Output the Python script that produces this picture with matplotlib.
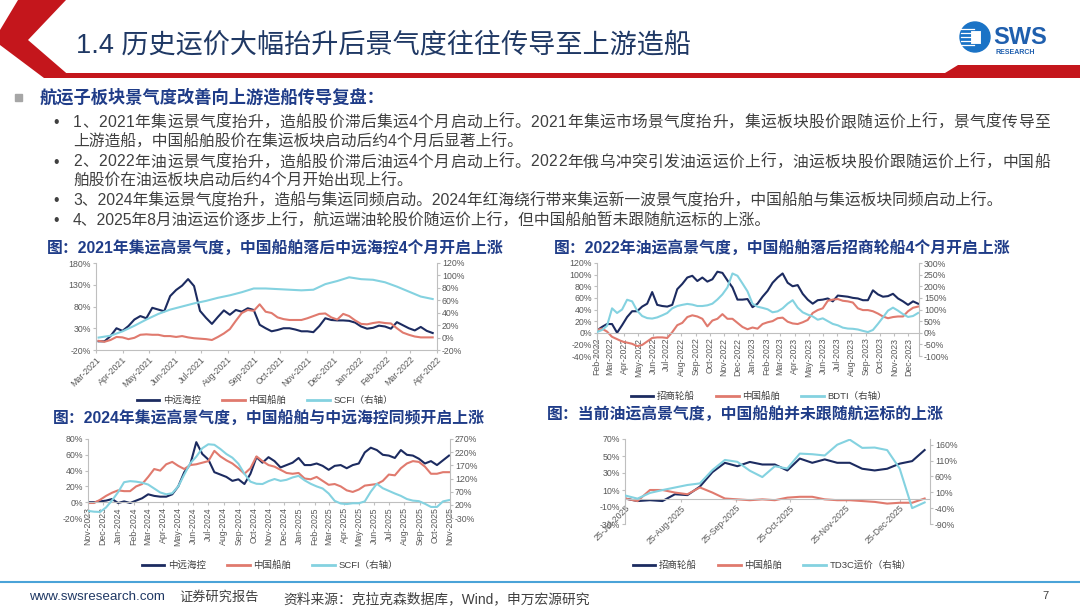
import numpy as np
import pandas as pd
import matplotlib
matplotlib.use('Agg')
import matplotlib.pyplot as plt
import matplotlib.dates as mdates
from matplotlib.patches import Polygon, Circle, Rectangle
from matplotlib.lines import Line2D
from matplotlib.ticker import FuncFormatter

plt.rcParams['font.family'] = ['Liberation Sans', 'Noto Sans CJK SC']

# ---------------- data ----------------
# chart 1: 2021 container boom, left axis %, SCFI on right axis
c1_cosco = [0, 0, 12, 30, 24, 35, 50, 58, 53, 77, 73, 69, 104, 118, 128, 143, 127, 70, 54, 40,
            56, 71, 61, 72, 68, 76, 72, 38, 30, 23, 26, 30, 30, 27, 23, 23, 21, 35, 53, 49,
            48, 48, 47, 43, 34, 29, 31, 36, 34, 29, 44, 37, 30, 25, 33, 24, 19]
c1_csscl = [1, -1, 3, 10, 9, 5, 8, 15, 16, 15, 15, 12, 12, 10, 12, 9, 7, 6, 5, 3,
            10, 18, 28, 47, 65, 72, 70, 85, 68, 65, 55, 51, 49, 49, 49, 53, 58, 63, 64, 55,
            50, 63, 58, 48, 40, 39, 42, 44, 42, 41, 30, 20, 15, 11, 9, 9, 9]
c1_scfi = [0, 3, 10, 19, 29, 38, 45, 50, 55, 59, 64, 68, 73, 79, 79, 78, 77, 76, 77, 86,
           91, 97, 94, 93, 89, 82, 74, 66, 62]

# chart 2: 2022 tanker boom, BDTI on right axis
c2_cmes = [4, 10, 15, 15, 0, 13, 27, 37, 37, 45, 50, 70, 48, 46, 45, 48, 75, 84, 95, 98,
           89, 95, 88, 92, 105, 103, 90, 78, 57, 57, 58, 44, 50, 62, 72, 86, 95, 102, 86, 80,
           82, 67, 57, 50, 56, 57, 59, 54, 64, 63, 62, 60, 59, 56, 56, 73, 66, 62, 63, 67,
           59, 54, 48, 54, 50]
c2_csscl = [5, 7, 2, -7, -11, -15, -17, -19, -23, -21, -15, -9, -8, -8, -9, 1, 13, 17, 27, 30,
            28, 24, 11, 21, 24, 32, 24, 24, 17, 10, 6, 9, 7, 15, 18, 20, 25, 26, 19, 16,
            15, 18, 22, 34, 39, 42, 55, 57, 58, 55, 54, 52, 42, 39, 39, 37, 33, 28, 25, 27,
            28, 28, 37, 43, 45]
c2_bdti = [3, 12, 30, 105, 85, 100, 142, 135, 95, 72, 63, 61, 66, 75, 85, 105, 115, 120, 124, 121,
           115, 115, 118, 125, 143, 165, 195, 255, 245, 212, 178, 125, 112, 107, 101, 88, 92, 105, 125, 140,
           108, 88, 78, 70, 56, 62, 50, 38, 32, 22, 18, 17, 14, 8, 3, 12, 38, 66, 95, 108,
           95, 80, 68, 72, 85]

# chart 3: 2024 Red Sea container rally, SCFI on right axis
c3_cosco = [0, 0, 1, 2, 4, -1, 1, -1, 2, 5, 10, 8, 7, 7, 10, 20, 38, 48, 76, 61,
            54, 38, 35, 32, 27, 29, 23, 36, 57, 50, 57, 52, 44, 47, 50, 56, 47, 47, 49, 46,
            41, 46, 47, 43, 47, 49, 63, 69, 66, 60, 59, 56, 66, 60, 59, 55, 49, 52, 47, 53, 59]
c3_csscl = [-1, -1, 3, 8, 12, 15, 14, 14, 20, 23, 32, 42, 40, 48, 51, 46, 42, 47, 48, 50,
            52, 65, 58, 53, 49, 43, 36, 43, 58, 52, 47, 45, 41, 37, 36, 37, 30, 29, 32, 27,
            22, 23, 20, 15, 13, 16, 21, 22, 23, 27, 35, 34, 43, 49, 52, 51, 45, 36, 36, 38, 38]
c3_scfi = [-3, -6, -7, 10, 37, 68, 106, 110, 108, 104, 97, 82, 67, 60, 64, 90, 135, 178, 203, 235,
           250, 248, 232, 213, 199, 176, 138, 108, 100, 99, 110, 118, 111, 115, 124, 130, 113, 100, 90, 82,
           63, 35, 25, 23, 26, 26, 33, 70, 100, 83, 73, 63, 54, 42, 36, 34, 24, 12, 12, 33, 38]

# chart 4: current tanker rally, TD3C on right axis
c4_cmes = [0, -3, -2, -3, 5, 4, 14, 31, 42, 38, 43, 40, 40, 33, 47, 42, 46, 42, 42, 35,
           33, 35, 41, 44, 57]
c4_csscl = [0, -3, 10, 10, 7, 5, 13, 7, 0, -1, -2, -1, -2, 1, 2, 2, -1, -2, -2, -3,
            -4, -6, -5, -5, 0]
c4_td3c = [0, -10, 8, 17, 25, 33, 38, 80, 112, 106, 78, 58, 92, 85, 132, 130, 126, 160, 176, 150,
           151, 143, 85, -40, -22]

NAVY = '#1c2b60'
RED = '#e07a6e'
CYAN = '#84d2e0'
AXC = '#bfbfbf'
TXT = '#595959'
TITLE = '#1f3c88'

fig = plt.figure(figsize=(10.8, 6.08), dpi=100)
bg = fig.add_axes([0, 0, 1, 1])
bg.set_xlim(0, 1080)
bg.set_ylim(608, 0)
bg.axis('off')


def px_rect(l, t, r, b):
    return [l / 1080, 1 - b / 608, (r - l) / 1080, (b - t) / 608]


# ---------------- header ----------------
bg.add_patch(Polygon([(18, 0), (66, 0), (28, 40), (72, 78), (44, 78), (0, 45), (0, 30)],
                     closed=True, color='#c4161c', lw=0))
bg.add_patch(Polygon([(55, 78), (1080, 78), (1080, 65), (958, 65), (945, 73), (62, 73)],
                     closed=True, color='#c4161c', lw=0))
bg.text(76, 45, '1.4 历史运价大幅抬升后景气度往往传导至上游造船', fontsize=19.5,
        fontweight='light', color='#1f3864', va='center', ha='left')

bg.add_patch(Circle((975, 37), 15, color='#1a73c6'))
for i in range(5):
    bg.plot([961, 974], [29 + i * 4, 29 + i * 4], color='white', lw=0.9)
bg.add_patch(Rectangle((970, 30), 11, 14, facecolor='white', edgecolor='#1a73c6', lw=0.8))
bg.text(993, 38, 'SWS', fontsize=17, fontweight='bold', color='#1f5fae', va='center', ha='left')
bg.text(996, 53, 'RESEARCH', fontsize=5, fontweight='bold', color='#1f5fae', va='center', ha='left')

# ---------------- text block ----------------
BODY = 11.35


def justify(s, x0, x1, y, size, **kw):
    em = size * 100 / 72
    adv = [0.556 if ord(c) < 0x2e80 else 1.0 for c in s]
    gap = (x1 - x0 - sum(adv) * em) / (len(s) - 1)
    x = x0
    for c, a in zip(s, adv):
        bg.text(x, y, c, fontsize=size, va='baseline', ha='left', **kw)
        x += a * em + gap


bg.add_patch(Rectangle((15, 94), 7, 7, color='#a6a6a6'))
bg.text(40, 103, '航运子板块景气度改善向上游造船传导复盘：', fontsize=12.4, fontweight='bold',
        color=TITLE, va='baseline', ha='left')

lines = [
    ('1、2021年集运景气度抬升，造船股价滞后集运4个月启动上行。2021年集运市场景气度抬升，集运板块股价跟随运价上行，景气度传导至', True, True),
    ('上游造船，中国船舶股价在集运板块启动后约4个月后显著上行。', False, False),
    ('2、2022年油运景气度抬升，造船股价滞后油运4个月启动上行。2022年俄乌冲突引发油运运价上行，油运板块股价跟随运价上行，中国船', True, True),
    ('舶股价在油运板块启动后约4个月开始出现上行。', False, False),
    ('3、2024年集运景气度抬升，造船与集运同频启动。2024年红海绕行带来集运新一波景气度抬升，中国船舶与集运板块同频启动上行。', True, False),
    ('4、2025年8月油运运价逐步上行，航运端油轮股价随运价上行，但中国船舶暂未跟随航运标的上涨。', True, False),
]
line_y = [121, 141, 160.5, 180, 199.5, 219]
for (s, dot, just), y in zip(lines, line_y):
    yb = y + 6
    if dot:
        bg.text(53, yb, '•', fontsize=BODY, color='#404040', va='baseline', ha='left')
    if just:
        justify(s, 73, 1050, yb, BODY, color='#404040')
    else:
        bg.text(73, yb, s, fontsize=BODY, color='#404040', va='baseline', ha='left')

# ---------------- chart titles ----------------
titles = [
    (47, 249, '图：2021年集运高景气度，中国船舶落后中远海控4个月开启上涨'),
    (554, 249, '图：2022年油运高景气度，中国船舶落后招商轮船4个月开启上涨'),
    (53, 419, '图：2024年集运高景气度，中国船舶与中远海控同频开启上涨'),
    (547, 415, '图：当前油运高景气度，中国船舶并未跟随航运标的上涨'),
]
for x, y, s in titles:
    bg.text(x, y, s, fontsize=11.4, fontweight='bold', color=TITLE, va='center', ha='left')

pct = FuncFormatter(lambda v, p: f'{v:.0f}%')


def chart(rect, start, end, left, right, llim, lticks, rlim, rticks, xlim,
          locator, fmt, rot, zero_axis, legend_xy):
    ax = fig.add_axes(px_rect(*rect))
    ax.set_facecolor('none')
    for vals, color, _ in left:
        d = pd.date_range(start, end, periods=len(vals))
        ax.plot(d, vals, color=color, lw=1.5)
    ax.set_ylim(*llim)
    ax.set_yticks(lticks)
    ax.yaxis.set_major_formatter(pct)
    ax.set_xlim(pd.Timestamp(xlim[0]), pd.Timestamp(xlim[1]))
    ax.xaxis.set_major_locator(locator)
    ax.xaxis.set_major_formatter(mdates.DateFormatter(fmt))
    for sp in ['top', 'right']:
        ax.spines[sp].set_visible(False)
    for sp in ['left', 'bottom']:
        ax.spines[sp].set_color(AXC)
        ax.spines[sp].set_linewidth(0.8)
    if zero_axis:
        ax.spines['bottom'].set_position(('data', 0))
    ax.tick_params(axis='y', length=2, color=AXC, labelsize=6.3, labelcolor=TXT, pad=1.5)
    ax.tick_params(axis='x', length=2, color=AXC, labelsize=6.3, labelcolor=TXT, pad=1.5)
    for lbl in ax.get_xticklabels():
        if rot == 90:
            lbl.set_rotation(90)
            lbl.set_ha('center')
        else:
            lbl.set_rotation(45)
            lbl.set_ha('right')
            lbl.set_rotation_mode('anchor')

    ax2 = ax.twinx()
    vals, color, _ = right
    d = pd.date_range(start, end, periods=len(vals))
    ax2.plot(d, vals, color=color, lw=1.5)
    ax2.set_ylim(*rlim)
    ax2.set_yticks(rticks)
    ax2.yaxis.set_major_formatter(pct)
    for sp in ['top', 'left', 'bottom']:
        ax2.spines[sp].set_visible(False)
    ax2.spines['right'].set_color(AXC)
    ax2.spines['right'].set_linewidth(0.8)
    ax2.tick_params(axis='y', length=2, color=AXC, labelsize=6.3, labelcolor=TXT, pad=1.5)

    handles = [Line2D([], [], color=c, lw=2) for _, c, _ in left + [right]]
    labels = [l for _, _, l in left + [right]]
    ax2.legend(handles, labels, loc='center', ncol=3, frameon=False, fontsize=6.8,
               bbox_to_anchor=(legend_xy[0] / 1080, 1 - legend_xy[1] / 608),
               bbox_transform=fig.transFigure, handlelength=2.4, columnspacing=2.2,
               handletextpad=0.4, labelcolor='#404040')
    return ax, ax2


chart((96, 263, 437, 350), '2021-03-04', '2022-03-27',
      [(c1_cosco, NAVY, '中远海控'), (c1_csscl, RED, '中国船舶')], (c1_scfi, CYAN, 'SCFI（右轴）'),
      (-20, 180), [-20, 30, 80, 130, 180], (-20, 120), np.arange(-20, 121, 20),
      ('2021-03-01', '2022-04-01'), mdates.MonthLocator(), '%b-%Y', 45, False, (265, 400))

chart((597, 263, 919, 356), '2022-02-01', '2023-12-22',
      [(c2_cmes, NAVY, '招商轮船'), (c2_csscl, RED, '中国船舶')], (c2_bdti, CYAN, 'BDTI（右轴）'),
      (-40, 120), np.arange(-40, 121, 20), (-100, 300), np.arange(-100, 301, 50),
      ('2022-02-01', '2023-12-24'), mdates.MonthLocator(), '%b-%Y', 90, True, (759, 396))

chart((88, 439, 450, 518), '2023-11-01', '2025-10-30',
      [(c3_cosco, NAVY, '中远海控'), (c3_csscl, RED, '中国船舶')], (c3_scfi, CYAN, 'SCFI（右轴）'),
      (-20, 80), np.arange(-20, 81, 20), (-30, 270), np.arange(-30, 271, 50),
      ('2023-11-01', '2025-11-01'), mdates.MonthLocator(), '%b-%Y', 90, True, (270, 565))

chart((625, 439, 930, 524), '2025-07-25', '2026-01-08',
      [(c4_cmes, NAVY, '招商轮船'), (c4_csscl, RED, '中国船舶')], (c4_td3c, CYAN, 'TD3C运价（右轴）'),
      (-30, 70), np.arange(-30, 71, 20), (-90, 178), np.arange(-90, 161, 50),
      ('2025-07-25', '2026-01-11'), mdates.MonthLocator(bymonthday=25), '%d-%b-%Y', 45, True, (772, 565))

# ---------------- footer ----------------
bg.plot([0, 1080], [582, 582], color='#4aa3d8', lw=1.5)
bg.text(29, 597, 'www.swsresearch.com', fontsize=9.6, color='#1f3864', va='center', ha='left')
bg.text(179, 597, '证券研究报告', fontsize=9.5, color='#404040', va='center', ha='left')
bg.text(283, 599, '资料来源：克拉克森数据库，Wind，申万宏源研究', fontsize=9.9, color='#404040',
        va='center', ha='left')
bg.text(1042, 596, '7', fontsize=8, color='#404040', va='center', ha='left')

fig.savefig('out.png', dpi=100)
